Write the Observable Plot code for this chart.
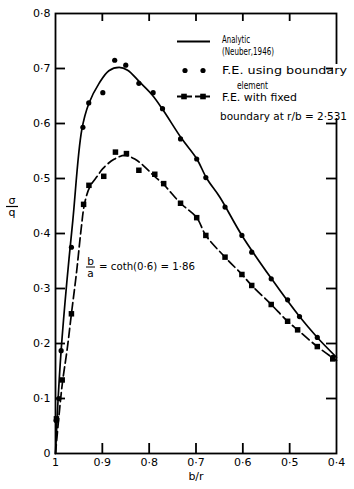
<!DOCTYPE html>
<html><head><meta charset="utf-8">
<script src="https://cdn.jsdelivr.net/npm/d3@7"></script>
<script src="https://cdn.jsdelivr.net/npm/@observablehq/plot@0.6"></script>
<style>
body{margin:0;background:#fff;}
#chart{position:relative;width:354px;height:489px;}
</style></head><body><div id="chart"></div>
<script>
const xTicks = [1, 0.9, 0.8, 0.7, 0.6, 0.5, 0.4];
const xTickLabels = ["1", "0·9", "0·8", "0·7", "0·6", "0·5", "0·4"];
const yTicks = [0, 0.1, 0.2, 0.3, 0.4, 0.5, 0.6, 0.7, 0.8];
const yTickLabels = ["0", "0·1", "0·2", "0·3", "0·4", "0·5", "0·6", "0·7", "0·8"];
const innerXTicks = [0.9, 0.8, 0.7, 0.6, 0.5];
const innerYTicks = [0.1, 0.2, 0.3, 0.4, 0.5, 0.6, 0.7];

// Analytic (Neuber, 1946) — solid curve
const analyticX = [1, 0.995, 0.988, 0.976, 0.963, 0.944, 0.929, 0.907, 0.886, 0.864, 0.846, 0.821, 0.793, 0.77, 0.731, 0.6985, 0.677, 0.649, 0.602, 0.539, 0.479, 0.441, 0.4];
const analyticY = [0, 0.09, 0.187, 0.31, 0.424, 0.588, 0.636, 0.673, 0.696, 0.702, 0.697, 0.676, 0.6515, 0.624, 0.573, 0.536, 0.5, 0.466, 0.3965, 0.318, 0.249, 0.211, 0.175];

// F.E. using boundary element — dots
const boundaryX = [0.9986, 0.993, 0.988, 0.966, 0.9415, 0.929, 0.899, 0.8736, 0.85, 0.822, 0.7915, 0.7715, 0.733, 0.6985, 0.679, 0.638, 0.602, 0.581, 0.5394, 0.5044, 0.479, 0.441, 0.408];
const boundaryY = [0.06, 0.1, 0.187, 0.375, 0.593, 0.6375, 0.656, 0.715, 0.706, 0.673, 0.656, 0.627, 0.572, 0.5355, 0.5016, 0.448, 0.3965, 0.366, 0.3176, 0.2794, 0.249, 0.211, 0.175];

// F.E. with fixed boundary at r/b = 2.531 — squares
const fixedX = [0.998, 0.9857, 0.966, 0.94, 0.9286, 0.897, 0.872, 0.8485, 0.822, 0.788, 0.769, 0.733, 0.6985, 0.679, 0.638, 0.602, 0.581, 0.5394, 0.5044, 0.483, 0.441, 0.408];
const fixedY = [0.063, 0.1337, 0.254, 0.453, 0.4876, 0.504, 0.548, 0.5453, 0.515, 0.5077, 0.4907, 0.455, 0.4288, 0.3965, 0.357, 0.3255, 0.3055, 0.2709, 0.2404, 0.2248, 0.1944, 0.172];

// dashed curve through the fixed-boundary results
const fixedLineX = [1, 0.993, 0.985, 0.975, 0.966, 0.955, 0.945, 0.938, 0.927, 0.91, 0.899, 0.875, 0.852, 0.83, 0.813, 0.79, 0.77, 0.733, 0.6985, 0.679, 0.638, 0.602, 0.581, 0.5394, 0.5044, 0.483, 0.441, 0.4];
const fixedLineY = [0, 0.065, 0.13, 0.19, 0.254, 0.33, 0.41, 0.454, 0.4845, 0.505, 0.518, 0.535, 0.542, 0.535, 0.524, 0.505, 0.49, 0.455, 0.4288, 0.3965, 0.357, 0.3255, 0.3055, 0.2709, 0.2404, 0.2248, 0.1944, 0.169];

const zip = (xs, ys) => xs.map((x, i) => ({x, y: ys[i]}));
const analytic = zip(analyticX, analyticY);
const boundary = zip(boundaryX, boundaryY);
const fixed = zip(fixedX, fixedY);
const fixedLine = zip(fixedLineX, fixedLineY);

const W = 354, H = 489, mL = 55, mR = 18, mT = 13, mB = 36;
const frameW = W - mL - mR, frameH = H - mT - mB;
const FONT = "DejaVu Sans, sans-serif";

const chart = Plot.plot({
  width: W, height: H,
  marginLeft: mL, marginRight: mR, marginTop: mT, marginBottom: mB,
  style: {fontFamily: FONT, fontSize: "11px"},
  x: {domain: [1, 0.4]},
  y: {domain: [0, 0.8]},
  marks: [
    Plot.frame({stroke: "black", strokeWidth: 1.8}),
    // inward ticks on all four sides
    Plot.ruleX(innerXTicks, {x: d => d, insetTop: frameH - 10, stroke: "black", strokeWidth: 1.8}),
    Plot.ruleX(innerXTicks, {x: d => d, insetBottom: frameH - 8, stroke: "black", strokeWidth: 1.8}),
    Plot.ruleY(innerYTicks, {y: d => d, insetRight: frameW - 10, stroke: "black", strokeWidth: 1.8}),
    Plot.ruleY(innerYTicks, {y: d => d, insetLeft: frameW - 10, stroke: "black", strokeWidth: 1.8}),
    Plot.axisX(xTicks, {tickSize: 0, tickPadding: 5, label: null, fontSize: 11,
      tickFormat: d => xTickLabels[xTicks.indexOf(d)]}),
    Plot.axisY(yTicks, {tickSize: 0, tickPadding: 5, label: null, fontSize: 11,
      tickFormat: d => yTickLabels[yTicks.indexOf(d)]}),
    Plot.text(["b/r"], {frameAnchor: "bottom", dy: 26, fontSize: 11}),
    Plot.line(analytic, {x: "x", y: "y", curve: "catmull-rom", stroke: "black", strokeWidth: 1.7}),
    Plot.line(fixedLine, {x: "x", y: "y", curve: "catmull-rom", stroke: "black", strokeWidth: 1.7, strokeDasharray: "9,4"}),
    Plot.dot(boundary, {x: "x", y: "y", r: 2.6, fill: "black", stroke: null}),
    Plot.dot(fixed, {x: "x", y: "y", r: 3.1, symbol: "square", fill: "black", stroke: null})
  ]
});
document.getElementById("chart").appendChild(chart);

const svg = d3.select(chart);
const sx = chart.scale("x");
const x1 = d3.scaleLinear(sx.domain, sx.range)(0.4);

const g = svg.append("g").attr("font-family", FONT).attr("fill", "black").attr("text-anchor", "start");
// gap in right frame behind legend
g.append("rect").attr("x", x1 - 3).attr("y", 64).attr("width", 6).attr("height", 54).attr("fill", "white");
// legend
g.append("line").attr("x1", 177).attr("x2", 210).attr("y1", 41.5).attr("y2", 41.5).attr("stroke", "black").attr("stroke-width", 1.8);
[185, 203].forEach(cx => g.append("circle").attr("cx", cx).attr("cy", 70.5).attr("r", 2.6).attr("fill", "black"));
g.append("line").attr("x1", 177).attr("x2", 211).attr("y1", 96.5).attr("y2", 96.5).attr("stroke", "black").attr("stroke-width", 1.8).attr("stroke-dasharray", "6,3");
[184, 203].forEach(cx => g.append("rect").attr("x", cx - 2.8).attr("y", 96.5 - 2.8).attr("width", 5.6).attr("height", 5.6).attr("fill", "black"));
const legendTexts = [
  ["Analytic", 222, 43, 28, 10.5],
  ["(Neuber,1946)", 222, 55, 52, 10.5],
  ["F.E. using boundary", 222, 73.5, 125, 11],
  ["element", 237, 88.5, 31, 10],
  ["F.E. with fixed", 222, 101, 75, 11],
  ["boundary at r/b = 2·531", 220, 119.5, 127, 11]
];
legendTexts.forEach(([t, x, y, w, fs]) => g.append("text").attr("x", x).attr("y", y).attr("font-size", fs)
  .attr("text-anchor", "start").attr("fill", "black")
  .attr("textLength", w).attr("lengthAdjust", "spacingAndGlyphs").text(t));
// annotation b/a = coth(0.6) = 1.86
g.append("text").attr("x", 90.5).attr("y", 264.5).attr("font-size", 10.5).attr("text-anchor", "middle").attr("fill", "black").text("b");
g.append("line").attr("x1", 86).attr("x2", 95).attr("y1", 267).attr("y2", 267).attr("stroke", "black").attr("stroke-width", 1);
g.append("text").attr("x", 90.5).attr("y", 276.5).attr("font-size", 10.5).attr("text-anchor", "middle").attr("fill", "black").text("a");
g.append("text").attr("x", 99).attr("y", 270).attr("font-size", 10.5).attr("text-anchor", "start").attr("fill", "black")
  .attr("textLength", 96).attr("lengthAdjust", "spacingAndGlyphs").text("= coth(0·6) = 1·86");
// y label fraction
g.append("text").attr("x", 12).attr("y", 204).attr("font-size", 11).attr("text-anchor", "middle").attr("fill", "black").text("σ");
g.append("line").attr("x1", 6).attr("x2", 18).attr("y1", 206.5).attr("y2", 206.5).attr("stroke", "black").attr("stroke-width", 1.2);
g.append("text").attr("x", 12).attr("y", 216).attr("font-size", 11).attr("text-anchor", "middle").attr("fill", "black").text("q");
</script></body></html>
